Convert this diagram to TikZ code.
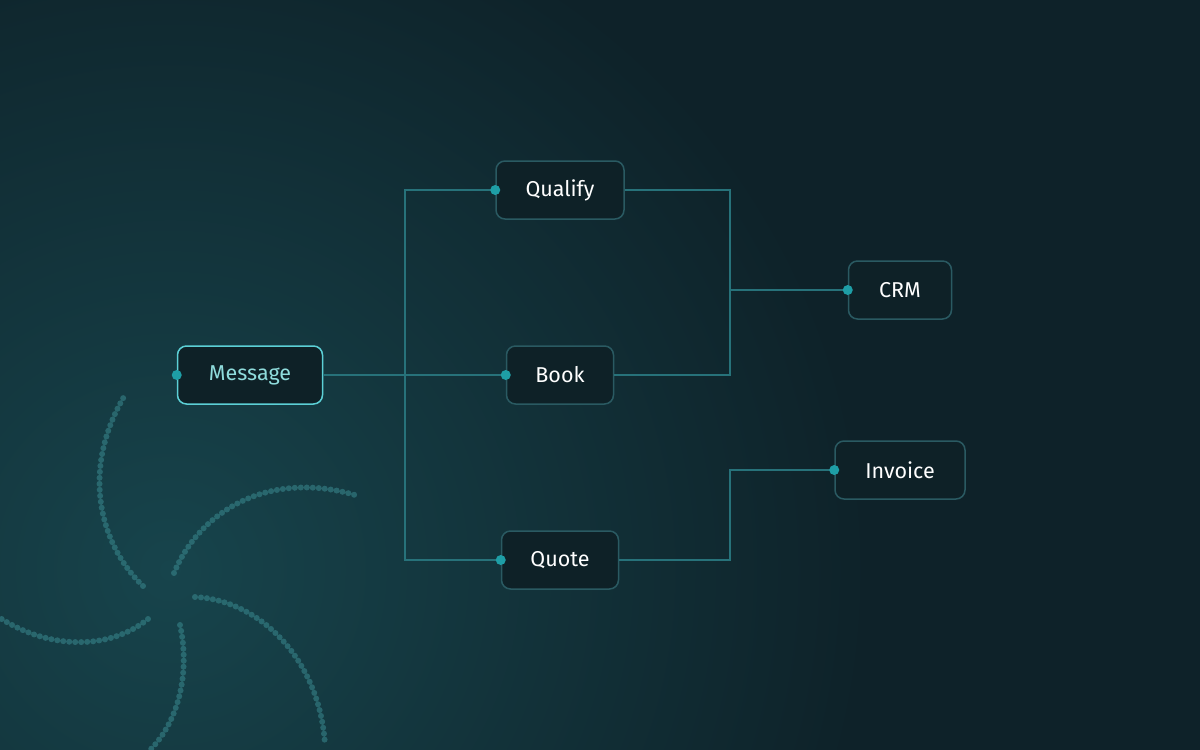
\documentclass[tikz,border=0pt]{standalone}
\usepackage{fontspec}
\setmainfont{Fira Sans}
\definecolor{bgdark}{HTML}{0E2229}
\definecolor{bgteal}{HTML}{17444C}
\definecolor{nodefill}{HTML}{0E2127}
\definecolor{nodeedge}{HTML}{2A5A62}
\definecolor{wire}{HTML}{27727A}
\definecolor{pin}{HTML}{1E9EA6}
\definecolor{accent}{HTML}{5CD0D6}
\definecolor{accenttext}{HTML}{8FDCDC}
\definecolor{swirl}{HTML}{3A8A90}
\begin{document}
\begin{tikzpicture}[x=1pt,y=-1pt,
  box/.style={draw=nodeedge,line width=1.5pt,fill=nodefill,rounded corners=9pt,minimum height=58pt,text=white,font=\fontsize{21.5}{26}\selectfont,inner sep=0pt},
  wireline/.style={draw=wire,line width=2pt},
  pinpt/.style={circle,fill=pin,inner sep=0pt,minimum size=10pt},
  arm/.style={draw=swirl,line width=6pt,line cap=round,dash pattern=on 0pt off 6pt,opacity=0.55}]
\useasboundingbox (0,0) rectangle (1200,750);
\begin{scope}
\clip (0,0) rectangle (1200,750);
\fill[bgdark] (0,0) rectangle (1200,750);
\shade[inner color=bgteal,outer color=bgdark] (170,570) circle (700);
\end{scope}
% swirl
\draw[arm] (143,586) .. controls (100,545) and (80,470) .. (125,395);
\draw[arm] (174,573) .. controls (200,510) and (270,470) .. (355,495);
\draw[arm] (195,597) .. controls (260,600) and (320,660) .. (325,745);
\draw[arm] (180,625) .. controls (190,670) and (180,720) .. (150,750);
\draw[arm] (148,619) .. controls (110,650) and (50,650) .. (0,618);
% nodes
\node[box,minimum width=145pt,draw=accent,text=accenttext] (msg) at (250,375) {Message};
\node[box,minimum width=128pt] (qual) at (560,190) {Qualify};
\node[box,minimum width=107pt] (book) at (560,375) {Book};
\node[box,minimum width=117pt] (quote) at (560,560) {Quote};
\node[box,minimum width=103pt] (crm) at (900,290) {CRM};
\node[box,minimum width=130pt] (inv) at (900,470) {Invoice};
\coordinate (split) at (405,375);
\coordinate (join) at (730,290);
% wires
\draw[wireline] (msg.east) -- (book.west);
\draw[wireline] (qual.west) -| (split) |- (quote.west);
\draw[wireline] (qual.east) -| (join) |- (book.east);
\draw[wireline] (join) -- (crm.west);
\draw[wireline] (quote.east) -| (730,470) -- (inv.west);
% pins
\foreach \n in {msg,qual,book,quote,crm,inv} \node[pinpt] at (\n.west) {};
\end{tikzpicture}
\end{document}
